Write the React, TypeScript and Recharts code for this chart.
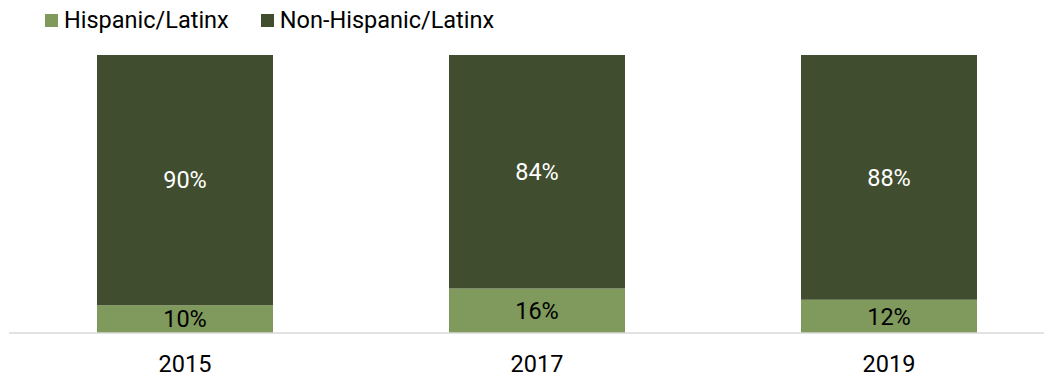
import React from 'react';
import { BarChart, Bar, XAxis, YAxis, LabelList } from 'recharts';

const years = ['2015', '2017', '2019'];
const hispanic = [10, 16, 12];
const nonHispanic = [90, 84, 88];
const seriesNames = ['Hispanic/Latinx', 'Non-Hispanic/Latinx'];

const data = years.map((y, i) => ({ year: y, hispanic: hispanic[i], nonHispanic: nonHispanic[i] }));

const LIGHT = '#7f9a5c';
const DARK = '#404d2e';
const FONT = 'Roboto, sans-serif';
const FS = 23.5;

export default function App() {
  return (
    <div style={{ position: 'relative', width: 1044, height: 369 }}>
      <div
        style={{
          position: 'absolute',
          top: -2,
          left: 37,
          display: 'flex',
          alignItems: 'center',
          fontFamily: FONT,
          fontSize: FS,
          lineHeight: 'normal',
          color: '#000',
          zIndex: 2,
          whiteSpace: 'nowrap',
        }}
      >
        <span style={{ display: 'inline-block', width: 13, height: 13, background: LIGHT, marginRight: 6 }} />
        <span style={{ marginRight: 32 }}>{seriesNames[0]}</span>
        <span style={{ display: 'inline-block', width: 13, height: 13, background: DARK, marginRight: 6 }} />
        <span>{seriesNames[1]}</span>
      </div>
      <div style={{ width: 1044, height: 369, overflow: 'hidden' }}>
        <BarChart
          width={1080}
          height={369}
          data={data}
          margin={{ top: 47, right: 23, bottom: 14, left: 1 }}
          barCategoryGap="25%"
        >
          <XAxis
            dataKey="year"
            axisLine={{ stroke: '#d9d9d9', strokeWidth: 1.5 }}
            tickLine={false}
            tick={{ fontFamily: FONT, fontSize: FS, fill: '#000' }}
            tickMargin={16}
          />
          <YAxis hide domain={[0, 100]} />
          <Bar dataKey="hispanic" name={seriesNames[0]} stackId="a" fill={LIGHT} isAnimationActive={false}>
            <LabelList
              dataKey="hispanic"
              position="center"
              formatter={(v: number) => `${v}%`}
              style={{ fontFamily: FONT, fontSize: FS, fill: '#000' }}
            />
          </Bar>
          <Bar dataKey="nonHispanic" name={seriesNames[1]} stackId="a" fill={DARK} isAnimationActive={false}>
            <LabelList
              dataKey="nonHispanic"
              position="center"
              formatter={(v: number) => `${v}%`}
              style={{ fontFamily: FONT, fontSize: FS, fill: '#fff' }}
            />
          </Bar>
        </BarChart>
      </div>
    </div>
  );
}
